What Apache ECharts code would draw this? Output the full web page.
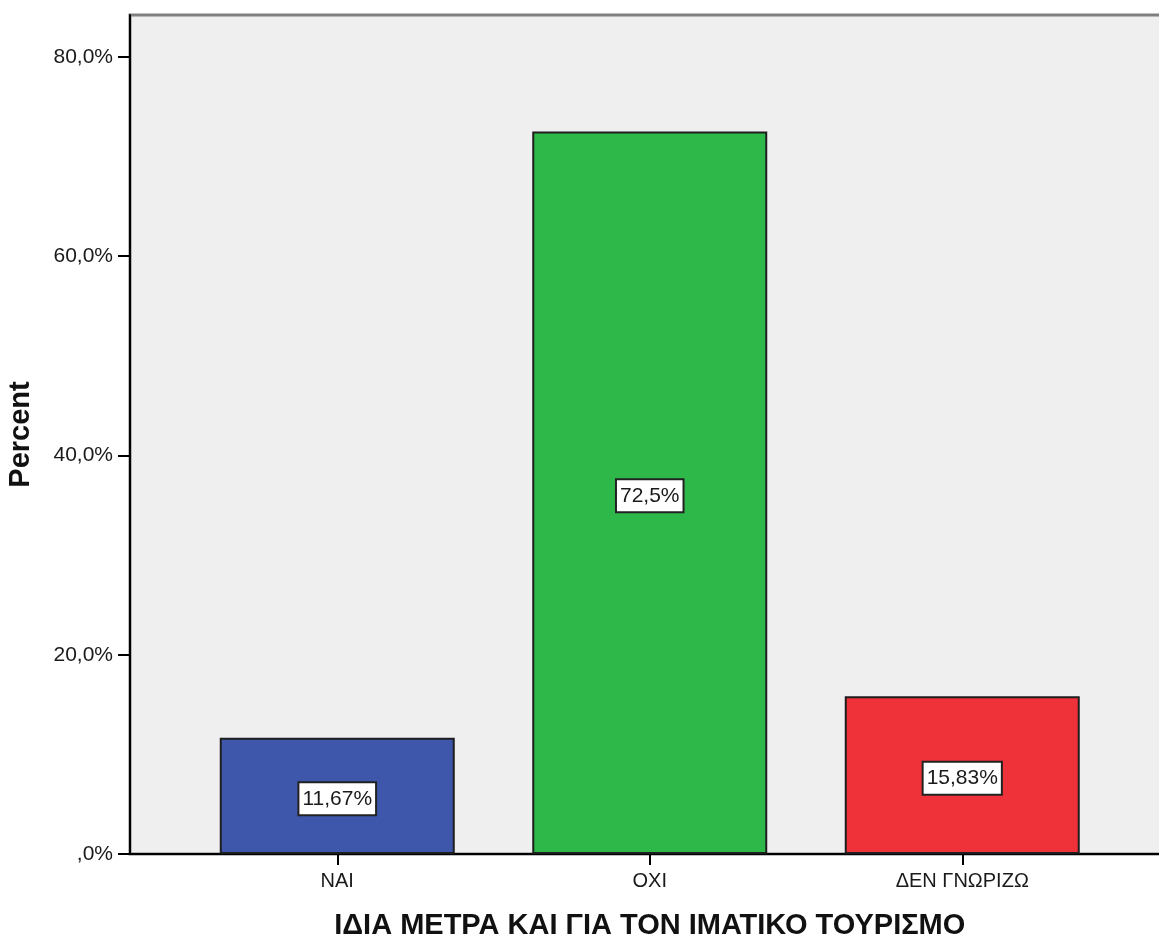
<!DOCTYPE html>
<html>
<head>
<meta charset="utf-8">
<script src="https://cdn.jsdelivr.net/npm/echarts@6/dist/echarts.min.js"></script>
<style>
  html, body { margin: 0; padding: 0; background: #ffffff; }
  #chart { width: 1159px; height: 939px; }
</style>
</head>
<body>
<div id="chart"></div>
<script>
// Answers to "same measures for clothing-optional tourism too?"
const categories = ['ΝΑΙ', 'ΟΧΙ', 'ΔΕΝ ΓΝΩΡΙΖΩ'];
const percents = [11.67, 72.5, 15.83];
const valueLabels = ['11,67%', '72,5%', '15,83%'];
const barColors = ['#3e57ab', '#2eb84a', '#ef313a'];
const yTicks = [0, 20, 40, 60, 80];

const xTitle = 'ΙΔΙΑ ΜΕΤΡΑ ΚΑΙ ΓΙΑ ΤΟΝ ΙΜΑΤΙΚΟ ΤΟΥΡΙΣΜΟ';
const yTitle = 'Percent';

const Y_MAX = 84.2;
const sans = '"Liberation Sans", Arial, sans-serif';

function pctTick(v) {
  if (v === 0) return ',0%';
  return v.toFixed(1).replace('.', ',') + '%';
}

const chart = echarts.init(document.getElementById('chart'), null, { renderer: 'canvas' });

chart.setOption({
  animation: false,
  backgroundColor: '#ffffff',
  grid: [
    // frame + background panel
    { left: 130, top: 15, right: -30, bottom: 85, show: true, outerBoundsMode: 'none',
      backgroundColor: '#efefef', borderColor: '#808080', borderWidth: 3 },
    // area holding the category bands
    { left: 181, top: 15, width: 937.5, bottom: 85, outerBoundsMode: 'none' }
  ],
  xAxis: [
    { gridIndex: 0, type: 'value', min: 0, max: 1,
      axisLine: { show: true, lineStyle: { color: '#000', width: 2 } },
      axisTick: { show: false }, axisLabel: { show: false }, splitLine: { show: false } },
    { gridIndex: 1, type: 'category', data: categories,
      axisLine: { show: false },
      axisTick: { show: true, alignWithLabel: true, length: 11, lineStyle: { color: '#000', width: 2 } },
      axisLabel: { margin: 17, color: '#1a1a1a', fontSize: 20, fontFamily: sans },
      name: xTitle, nameLocation: 'middle', nameGap: 57,
      nameTextStyle: { fontSize: 29, fontWeight: 'bold', color: '#111', fontFamily: sans } }
  ],
  yAxis: [
    { gridIndex: 0, type: 'value', min: 0, max: Y_MAX, interval: 20,
      axisLine: { show: true, lineStyle: { color: '#000', width: 2 } },
      axisTick: { show: true, length: 12, lineStyle: { color: '#000', width: 2 },
                  customValues: yTicks },
      axisLabel: { margin: 17, color: '#1a1a1a', fontSize: 21, fontFamily: sans,
                   formatter: pctTick, customValues: yTicks },
      splitLine: { show: false },
      name: yTitle, nameLocation: 'middle', nameGap: 95, nameRotate: 90,
      nameTextStyle: { fontSize: 29, fontWeight: 'bold', color: '#111', fontFamily: sans } },
    { gridIndex: 1, type: 'value', min: 0, max: Y_MAX, show: false }
  ],
  series: [{
    type: 'bar',
    xAxisIndex: 1,
    yAxisIndex: 1,
    barWidth: 235,
    data: percents.map((v, i) => ({
      value: v,
      itemStyle: { color: barColors[i] },
      label: { formatter: valueLabels[i] }
    })),
    itemStyle: { borderColor: '#1e1e1e', borderWidth: 2 },
    label: {
      show: true,
      position: 'inside',
      offset: [0, 3],
      color: '#1a1a1a',
      fontSize: 21,
      fontFamily: sans,
      backgroundColor: '#ffffff',
      borderColor: '#222',
      borderWidth: 2,
      padding: [6, 3, 4, 3]
    }
  }]
});
</script>
</body>
</html>
